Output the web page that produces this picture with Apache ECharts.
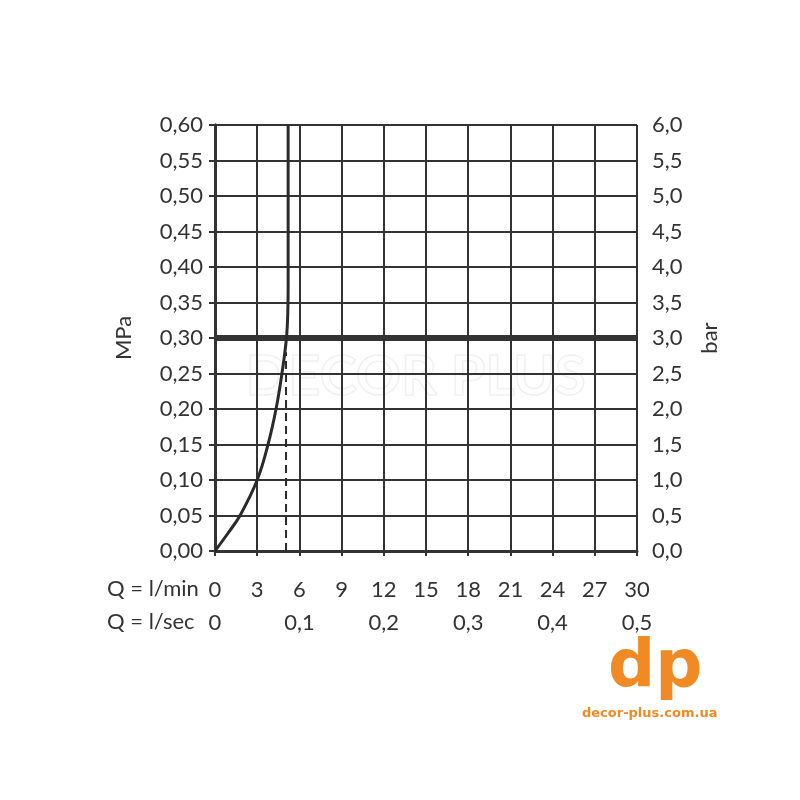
<!DOCTYPE html>
<html><head><meta charset="utf-8">
<script src="https://cdn.jsdelivr.net/npm/echarts@6/dist/echarts.min.js"></script>
<style>html,body{margin:0;padding:0;background:#fff}#c{width:800px;height:800px}</style>
</head><body><div id="c"></div>
<script>
// Flow (l/min) vs pressure (MPa) curve
const curveFlow = [0, 0.92, 1.78, 3.0, 3.77, 4.34, 4.76, 5.08, 5.18, 5.2, 5.2];
const curvePressure = [0, 0.025, 0.05, 0.10, 0.15, 0.20, 0.25, 0.30, 0.34, 0.38, 0.60];
// dashed reference line
const dashFlow = [5.05, 5.05];
const dashPressure = [0, 0.28];
// thick nominal pressure line
const nominalFlow = [0, 30];
const nominalPressure = [0.30, 0.30];
// axis ranges
const flowMin = [0, 30, 3];        // l/min
const flowSec = [0, 0.5, 0.1];     // l/sec
const mpa = [0, 0.60, 0.05];
const bar = [0, 6.0, 0.5];

const zip = (a, b) => a.map((v, i) => [v, b[i]]);
const comma = (d) => (v) => (d < 0 ? String(+v.toFixed(1)).replace('.', ',') : v.toFixed(d).replace('.', ','));
const FONT = 'Lato';
const TXT = '#333';
const LINE = '#333';

const chart = echarts.init(document.getElementById('c'), null, {renderer: 'canvas'});
chart.setOption({
  backgroundColor: '#fff',
  animation: false,
  grid: {left: 215, right: 163, top: 125, bottom: 249, containLabel: false},
  xAxis: [{
    type: 'value', min: flowMin[0], max: flowMin[1], interval: flowMin[2], position: 'bottom',
    axisLine: {show: true, lineStyle: {color: LINE, width: 3}},
    axisTick: {show: true, length: 5, lineStyle: {color: LINE, width: 2}},
    splitLine: {show: true, lineStyle: {color: LINE, width: 2}},
    axisLabel: {margin: 28, fontFamily: FONT, fontSize: 22, color: TXT, formatter: (v) => String(v)}
  }, {
    type: 'value', min: flowSec[0], max: flowSec[1], interval: flowSec[2], position: 'bottom', offset: 33,
    axisLine: {show: false}, axisTick: {show: false}, splitLine: {show: false},
    axisLabel: {margin: 28, fontFamily: FONT, fontSize: 22, color: TXT, formatter: comma(-1)}
  }],
  yAxis: [{
    type: 'value', min: mpa[0], max: mpa[1], interval: mpa[2], position: 'left',
    name: 'MPa', nameLocation: 'middle', nameRotate: 90, nameGap: 80,
    nameTextStyle: {fontFamily: FONT, fontSize: 22, color: TXT},
    axisLine: {show: true, lineStyle: {color: LINE, width: 3}},
    axisTick: {show: true, length: 6, lineStyle: {color: LINE, width: 2}},
    splitLine: {show: true, lineStyle: {color: LINE, width: 2}},
    axisLabel: {margin: 12, fontFamily: FONT, fontSize: 22, color: TXT, formatter: comma(2)}
  }, {
    type: 'value', min: bar[0], max: bar[1], interval: bar[2], position: 'right',
    name: 'bar', nameLocation: 'middle', nameRotate: 90, nameGap: 62,
    nameTextStyle: {fontFamily: FONT, fontSize: 22, color: TXT},
    axisLine: {show: true, lineStyle: {color: LINE, width: 3}},
    axisTick: {show: true, length: 6, lineStyle: {color: LINE, width: 2}},
    splitLine: {show: false},
    axisLabel: {margin: 15, fontFamily: FONT, fontSize: 22, color: TXT, formatter: comma(1)}
  }],
  graphic: [
    {type: 'text', left: 107, top: 578, style: {text: 'Q = l/min', font: '22px Lato', fill: TXT}},
    {type: 'text', left: 107, top: 611, style: {text: 'Q = l/sec', font: '22px Lato', fill: TXT}},
    {type: 'text', left: 245, top: 348, z: -1, style: {text: 'DECOR PLUS', font: 'bold 56px Lato', fill: 'rgba(0,0,0,0)', stroke: '#f0f0f0', lineWidth: 1.5}},
    {type: 'text', left: 608, top: 636, style: {text: 'dp', font: 'bold 66px "DejaVu Sans"', fill: '#f08a24'}},
    {type: 'text', left: 582, top: 707, style: {text: 'decor-plus.com.ua', font: 'bold 13px "DejaVu Sans"', fill: '#f08a24'}}
  ],
  series: [
    {type: 'line', name: 'curve', xAxisIndex: 0, yAxisIndex: 0, data: zip(curveFlow, curvePressure), smooth: 0.4,
     symbol: 'none', lineStyle: {color: '#2a2a2a', width: 3}, z: 5},
    {type: 'line', name: 'dash', xAxisIndex: 0, yAxisIndex: 0, data: zip(dashFlow, dashPressure),
     symbol: 'none', lineStyle: {color: '#2a2a2a', width: 2, type: [8, 5]}, z: 4},
    {type: 'line', name: 'nominal', xAxisIndex: 0, yAxisIndex: 0, data: zip(nominalFlow, nominalPressure),
     symbol: 'none', lineStyle: {color: '#333', width: 6}, z: 3}
  ]
});
</script></body></html>
